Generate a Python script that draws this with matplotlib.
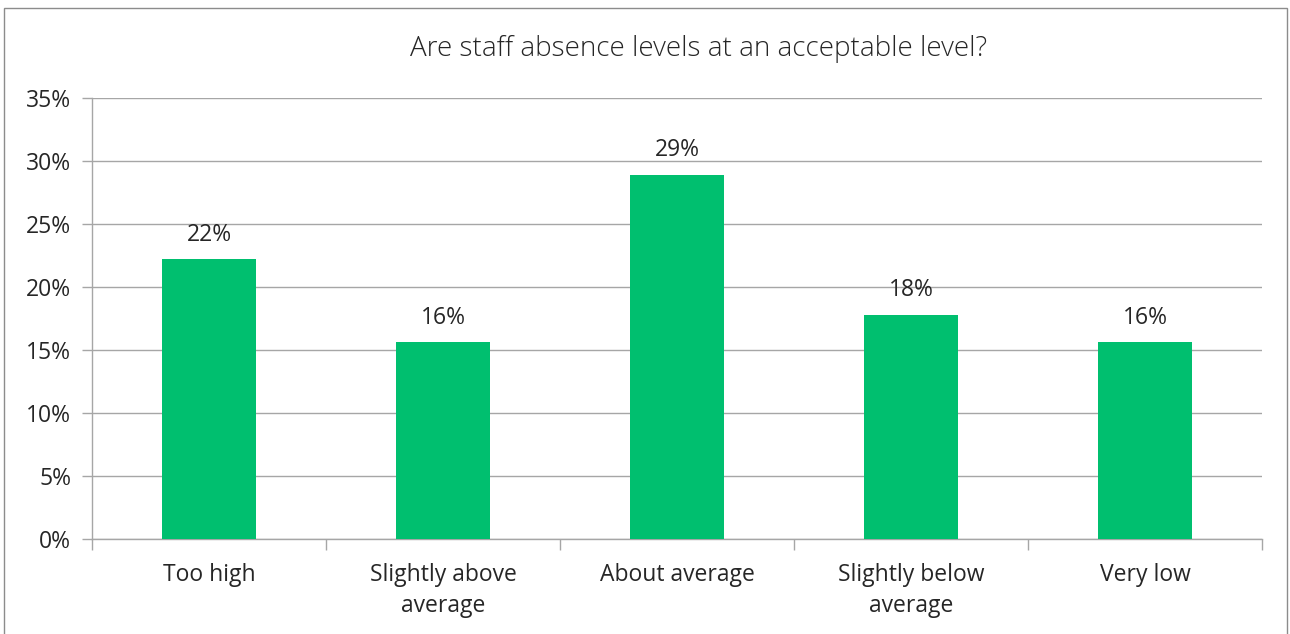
import matplotlib.pyplot as plt
from matplotlib.patches import Rectangle
from matplotlib.ticker import PercentFormatter

plt.rcParams['font.family'] = ['Open Sans', 'DejaVu Sans']

categories = ['Too high', 'Slightly above\naverage', 'About average',
              'Slightly below\naverage', 'Very low']
shares = [22.2, 15.6, 28.9, 17.8, 15.6]
bar_labels = ['22%', '16%', '29%', '18%', '16%']
y_ticks = [0, 5, 10, 15, 20, 25, 30, 35]

GREEN = '#00BF6F'
GRID = '#A6A6A6'
TEXT = '#262626'

fig = plt.figure(figsize=(12.9, 6.34), dpi=100)
fig.patch.set_facecolor('white')

# outer chart border
fig.patches.append(Rectangle((4 / 1290, -0.01), 1283 / 1290, 1 - 8 / 634 + 0.01,
                             transform=fig.transFigure, fill=False,
                             edgecolor='#8C8C8C', linewidth=1.0))

ax = fig.add_axes([92 / 1290, 1 - 539 / 634, 1170 / 1290, 441 / 634])

x = range(len(categories))
ax.bar(x, shares, width=0.4, color=GREEN, zorder=3)

for xi, v, lbl in zip(x, shares, bar_labels):
    ax.text(xi, v + 1.0, lbl, ha='center', va='bottom', fontsize=16.5, color=TEXT)

ax.set_xlim(-0.5, len(categories) - 0.5)
ax.set_ylim(0, 35)
ax.set_yticks(y_ticks)
ax.yaxis.set_major_formatter(PercentFormatter(decimals=0))
ax.grid(axis='y', color=GRID, linewidth=1.0, zorder=0)

ax.set_xticks([i + 0.5 for i in range(-1, len(categories))])
ax.set_xticklabels([])
ax.set_xticks(list(x), minor=True)
ax.set_xticklabels(categories, minor=True, fontsize=16.5, color=TEXT,
                   linespacing=1.4)
ax.tick_params(axis='x', which='minor', length=0, pad=17)
ax.tick_params(axis='x', which='major', length=8, color=GRID, width=1.0)
ax.tick_params(axis='y', length=7, color=GRID, width=1.0, labelsize=16.5,
               labelcolor=TEXT, pad=8)

for s in ['top', 'right']:
    ax.spines[s].set_visible(False)
for s in ['left', 'bottom']:
    ax.spines[s].set_color(GRID)
    ax.spines[s].set_linewidth(1.0)

fig.text(699 / 1290, 1 - 49 / 634, 'Are staff absence levels at an acceptable level?',
         ha='center', va='center', fontsize=20, fontweight='light', color=TEXT)

fig.savefig('out.png', dpi=100, facecolor='white')
